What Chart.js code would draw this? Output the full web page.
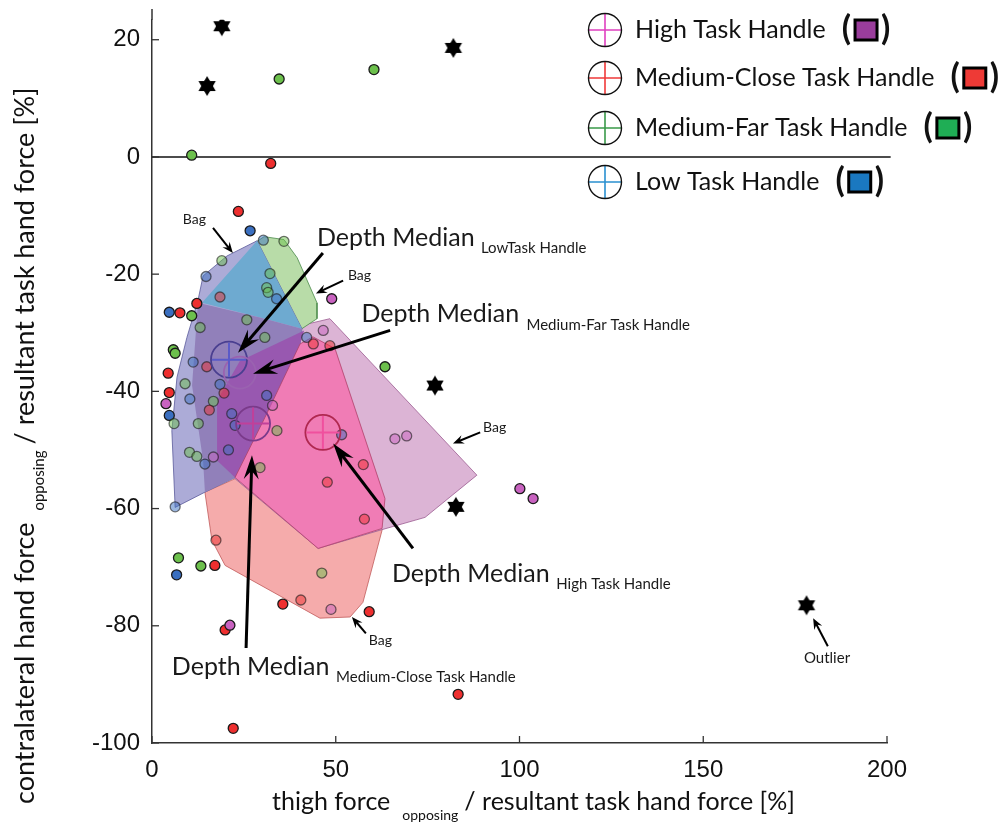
<!DOCTYPE html>
<html>
<head>
<meta charset="utf-8">
<script src="https://cdn.jsdelivr.net/npm/chart.js@4.4.1/dist/chart.umd.min.js"></script>
<style>
  html, body { margin: 0; padding: 0; background: #fff; }
  #wrap { width: 1006px; height: 823px; }
</style>
</head>
<body>
<div id="wrap"><canvas id="chart1" width="1006" height="823"></canvas></div>
<script>
// axis ticks
var xTicks = [0, 50, 100, 150, 200];
var yTicks = [-100, -80, -60, -40, -20, 0, 20];

// single trials, per task handle
var highX = [48.9, 46.6, 32.8, 16.7, 66.1, 69.3, 48.7, 21.2, 100.1, 103.7, 3.8];
var highY = [-24.2, -29.6, -42.4, -51.2, -48.1, -47.6, -77.2, -79.9, -56.6, -58.3, -42.1];

var closeX = [32.3, 23.5, 18.5, 12.2, 7.6, 43.9, 48.4, 14.9, 4.4, 4.7, 15.6, 19.6, 57.5, 47.7, 57.8, 17.4, 17.1, 35.6, 40.5, 59.1, 19.9, 83.3, 22.1];
var closeY = [-1.1, -9.3, -23.9, -25.0, -26.6, -31.9, -32.2, -35.8, -36.9, -40.2, -43.2, -40.3, -52.5, -55.5, -61.8, -65.4, -69.7, -76.3, -75.6, -77.6, -80.7, -91.7, -97.5];

var farX = [10.8, 34.6, 60.4, 35.9, 19.0, 32.1, 31.2, 31.6, 10.8, 5.8, 6.3, 25.8, 30.7, 13.1, 63.4, 16.7, 9.0, 6.0, 12.6, 34.0, 10.2, 12.2, 29.4, 7.2, 13.3, 46.2];
var farY = [0.3, 13.3, 14.9, -14.4, -17.7, -19.9, -22.3, -23.1, -27.1, -32.9, -33.5, -27.8, -30.8, -29.1, -35.8, -41.7, -38.7, -45.5, -45.5, -46.7, -50.4, -51.1, -53.0, -68.4, -69.8, -71.0];

var lowX = [26.7, 30.3, 14.7, 33.9, 4.7, 42.1, 11.2, 10.3, 18.5, 4.7, 21.7, 22.6, 20.8, 31.2, 14.4, 51.6, 6.3, 6.7];
var lowY = [-12.6, -14.2, -20.4, -24.2, -26.5, -30.8, -35.0, -41.3, -38.8, -44.1, -43.8, -45.8, -50.0, -40.7, -52.4, -47.4, -59.7, -71.3];

var outX = [19.0, 15.0, 82.0, 77.0, 82.7, 178.1];
var outY = [22.3, 12.1, 18.6, -39.0, -59.7, -76.5];

// depth medians: low, medium-far, medium-close, high
var medX = [20.95, 23.9, 27.5, 46.5];
var medY = [-34.6, -36.8, -45.5, -47.0];

// bag outlines (visible regions, painted back to front)
var salmonX = [14.4, 16.3, 19.9, 45.7, 53.9, 57.4, 62.6, 63.4, 49.8, 45.2, 37.6, 28.0, 22.6];
var salmonY = [-57.2, -65.4, -69.7, -78.7, -78.5, -76.0, -63.7, -58.1, -32.7, -30.2, -39.0, -50.9, -54.9];
var mauveX = [48.4, 88.4, 74.3, 62.0, 45.2, 22.6, 17.7, 17.7, 23.9, 40.3];
var mauveY = [-27.6, -54.3, -61.5, -63.7, -66.8, -54.9, -51.8, -41.6, -34.8, -28.8];
var greenX = [26.7, 30.5, 35.9, 39.5, 44.9, 44.9, 40.8, 29.4, 14.4];
var greenY = [-15.2, -13.6, -14.1, -17.2, -24.9, -27.6, -29.3, -27.3, -24.7];
var lavX = [6.3, 5.4, 6.8, 9.5, 12.5, 13.9, 20.4, 28.6, 40.8, 40.3, 30.7, 22.6, 14.4];
var lavY = [-59.8, -46.7, -37.6, -30.8, -24.5, -20.3, -16.9, -14.3, -29.3, -31.9, -44.5, -54.7, -57.2];
var steelX = [28.6, 40.8, 29.4, 13.6];
var steelY = [-14.3, -29.3, -27.4, -24.9];
var grayX = [12.5, 29.4, 40.8, 40.3, 30.7, 22.6, 14.4, 13.9, 10.9];
var grayY = [-24.9, -27.4, -29.3, -31.9, -44.5, -54.7, -57.2, -51.8, -39.0];
var purpX = [17.7, 17.7, 23.9, 41.4, 40.3, 30.7, 22.6];
var purpY = [-51.8, -41.6, -34.8, -29.6, -31.9, -44.5, -54.7];
var pinkX = [22.6, 30.7, 40.3, 43.8, 49.8, 63.4, 62.6, 45.2];
var pinkY = [-54.7, -44.5, -31.9, -30.7, -32.7, -58.3, -63.4, -66.8];

function pts(xs, ys) {
    return xs.map(function (v, i) { return { x: v, y: ys[i] }; });
}
function ring(xs, ys) {
    var p = pts(xs, ys);
    p.push(p[0]);
    return p;
}
function inPoly(x, y, xs, ys) {
    var hit = false;
    for (var i = 0, j = xs.length - 1; i < xs.length; j = i++) {
        if ((ys[i] > y) !== (ys[j] > y) && x < (xs[j] - xs[i]) * (y - ys[i]) / (ys[j] - ys[i]) + xs[i]) hit = !hit;
    }
    return hit;
}
function inBag(p) {
    return inPoly(p.x, p.y, salmonX, salmonY) || inPoly(p.x, p.y, mauveX, mauveY) ||
        inPoly(p.x, p.y, greenX, greenY) || inPoly(p.x, p.y, lavX, lavY);
}

// black six-point star for outliers
var star = document.createElement('canvas');
star.width = 22; star.height = 22;
(function () {
    var c = star.getContext('2d');
    c.fillStyle = '#000';
    for (var k = 0; k < 2; k++) {
        c.beginPath();
        for (var i = 0; i < 3; i++) {
            var a = -Math.PI / 2 + k * Math.PI / 3 + i * 2 * Math.PI / 3;
            var px = 11 + 10 * Math.cos(a), py = 11 + 10 * Math.sin(a);
            if (i === 0) c.moveTo(px, py); else c.lineTo(px, py);
        }
        c.closePath();
        c.fill();
    }
    c.beginPath(); c.arc(11, 11, 6, 0, Math.PI * 2); c.fill();
})();

function region(xs, ys, fill, line, order) {
    return {
        type: 'line', data: ring(xs, ys), fill: 'shape', backgroundColor: fill,
        borderColor: line, borderWidth: line ? 0.8 : 0, pointRadius: 0, tension: 0, order: order
    };
}
// points lying under a bag look tinted by it
function dots(xs, ys, rgb) {
    return {
        data: pts(xs, ys),
        backgroundColor: function (c) { return 'rgba(' + rgb + ',' + (c.raw && inBag(c.raw) ? 0.5 : 1) + ')'; },
        borderColor: function (c) { return 'rgba(26,26,26,' + (c.raw && inBag(c.raw) ? 0.6 : 1) + ')'; },
        borderWidth: 1.3, pointRadius: 5, order: 10
    };
}

var datasets = [
    region(salmonX, salmonY, '#f5abab', '#c05a5a', 100),
    region(mauveX, mauveY, '#dcb4d5', '#9a5a90', 99),
    region(greenX, greenY, '#b8dca8', '#4a8a4a', 98),
    region(lavX, lavY, '#acabd7', '#5a5a9a', 97),
    region(steelX, steelY, '#6eaad0', null, 96),
    region(grayX, grayY, '#9180ba', null, 95),
    region(purpX, purpY, '#9858b0', null, 94),
    region(pinkX, pinkY, '#f07cb5', '#b0406a', 93),
    dots(highX, highY, '200,98,192'),
    dots(closeX, closeY, '238,47,47'),
    dots(farX, farY, '108,192,76'),
    dots(lowX, lowY, '58,111,192'),
    { data: pts(outX, outY), pointStyle: star, order: 8 },
    { data: pts(medX, medY), pointStyle: 'circle', pointRadius: [18, 16, 17, 17.5], backgroundColor: 'rgba(0,0,0,0)',
      borderColor: ['#4a3f90', '#9a62b0', '#7a3a8a', '#b02850'], borderWidth: 1.8, order: 5 },
    { data: pts([medX[0], medX[2], medX[3]], [medY[0], medY[2], medY[3]]), pointStyle: 'cross', pointRadius: [17, 16, 16.5],
      borderColor: ['#5a5ac8', '#c0409a', '#f0509e'], borderWidth: 2, order: 4 }
];

// annotations (data units)
var notes = [
    { t: 'Bag', x: 8.4, y: -10.6, s: 14 }, { t: 'Bag', x: 53.3, y: -20.3, s: 14 },
    { t: 'Bag', x: 90.1, y: -46.2, s: 14 }, { t: 'Bag', x: 59.0, y: -82.5, s: 14 },
    { t: 'Outlier', x: 177.4, y: -85.6, s: 15 }
];
var medLabels = [
    { sub: 'LowTask Handle', x: 44.9, y: -15.2, sx: 89.5, sy: -16.4 },
    { sub: 'Medium-Far Task Handle', x: 57.0, y: -28.1, sx: 101.9, sy: -29.6 },
    { sub: 'High Task Handle', x: 65.3, y: -72.6, sx: 110.0, sy: -73.8 },
    { sub: 'Medium-Close Task Handle', x: 5.4, y: -88.4, sx: 50.1, sy: -89.6 }
];
var arrows = [
    [16.6, -12.1, 22.0, -16.4, 0], [52.0, -21.1, 44.6, -23.3, 0], [89.3, -47.0, 81.9, -48.9, 0],
    [58.2, -81.3, 54.4, -78.5, 0], [183.9, -83.5, 179.9, -78.7, 0],
    [46.5, -16.4, 23.4, -33.4, 1], [64.8, -29.6, 27.5, -37.0, 1],
    [71.0, -66.8, 49.3, -48.9, 1], [25.6, -83.8, 27.2, -50.9, 1]
];
var legendItems = [
    { t: 'High Task Handle', cross: '#e040c0', sq: '#9a3d9c', y: 30 },
    { t: 'Medium-Close Task Handle', cross: '#f03a3a', sq: '#ee3a36', y: 78 },
    { t: 'Medium-Far Task Handle', cross: '#3a9a4a', sq: '#1fae55', y: 128 },
    { t: 'Low Task Handle', cross: '#2a90d0', sq: '#1a78c0', y: 182 }
];

var FONT = 'Lato, "Open Sans", sans-serif';

function drawArrow(c, x1, y1, x2, y2, big) {
    var lw = big ? 3 : 2, hl = big ? 24 : 11, hw = big ? 15 : 9;
    var a = Math.atan2(y2 - y1, x2 - x1), ca = Math.cos(a), sa = Math.sin(a);
    c.lineWidth = lw;
    c.beginPath(); c.moveTo(x1, y1); c.lineTo(x2 - ca * hl * 0.6, y2 - sa * hl * 0.6); c.stroke();
    c.beginPath();
    c.moveTo(x2, y2);
    c.lineTo(x2 - hl * ca + hw / 2 * sa, y2 - hl * sa - hw / 2 * ca);
    c.lineTo(x2 - 0.65 * hl * ca, y2 - 0.65 * hl * sa);
    c.lineTo(x2 - hl * ca - hw / 2 * sa, y2 - hl * sa + hw / 2 * ca);
    c.closePath(); c.fill();
}

var decor = {
    id: 'decor',
    beforeDatasetsDraw: function (chart) {
        var c = chart.ctx, xs = chart.scales.x, ys = chart.scales.y;
        c.save();
        c.strokeStyle = '#111'; c.lineWidth = 1.5;
        var zy = ys.getPixelForValue(0);
        c.beginPath(); c.moveTo(xs.getPixelForValue(0), zy); c.lineTo(xs.getPixelForValue(201), zy); c.stroke();
        c.restore();
    },
    afterDraw: function (chart) {
        var c = chart.ctx, xs = chart.scales.x, ys = chart.scales.y, area = chart.chartArea;
        c.save();
        // y axis continues a little above the plot box
        c.strokeStyle = '#333'; c.lineWidth = 1.5;
        c.beginPath(); c.moveTo(area.left, area.top); c.lineTo(area.left, 9); c.stroke();
        // inward tick marks
        c.lineWidth = 1.3;
        xTicks.forEach(function (v) {
            var px = xs.getPixelForValue(v);
            c.beginPath(); c.moveTo(px, area.bottom); c.lineTo(px, area.bottom - 7); c.stroke();
        });
        yTicks.forEach(function (v) {
            var py = ys.getPixelForValue(v);
            c.beginPath(); c.moveTo(area.left, py); c.lineTo(area.left + 7, py); c.stroke();
        });

        // arrows
        c.strokeStyle = '#000'; c.fillStyle = '#000';
        arrows.forEach(function (a) {
            drawArrow(c, xs.getPixelForValue(a[0]), ys.getPixelForValue(a[1]),
                xs.getPixelForValue(a[2]), ys.getPixelForValue(a[3]), a[4]);
        });

        // notes
        c.fillStyle = '#1a1a1a'; c.textBaseline = 'middle'; c.textAlign = 'left';
        notes.forEach(function (n) {
            c.font = n.s + 'px ' + FONT;
            c.fillText(n.t, xs.getPixelForValue(n.x), ys.getPixelForValue(n.y));
        });
        c.textBaseline = 'alphabetic';
        medLabels.forEach(function (m) {
            c.font = '25px ' + FONT;
            c.fillText('Depth Median', xs.getPixelForValue(m.x), ys.getPixelForValue(m.y));
            c.font = '15px ' + FONT;
            c.fillText(m.sub, xs.getPixelForValue(m.sx), ys.getPixelForValue(m.sy));
        });

        // legend
        legendItems.forEach(function (it) {
            var cx = 605, cy = it.y, r = 16.5;
            c.strokeStyle = it.cross; c.lineWidth = 1.6;
            c.beginPath(); c.moveTo(cx - r, cy); c.lineTo(cx + r, cy); c.moveTo(cx, cy - r); c.lineTo(cx, cy + r); c.stroke();
            c.strokeStyle = '#111'; c.lineWidth = 1.4;
            c.beginPath(); c.arc(cx, cy, r, 0, Math.PI * 2); c.stroke();
            c.fillStyle = '#111'; c.font = '25px ' + FONT; c.textBaseline = 'middle';
            var tx = 635;
            c.fillText(it.t, tx, cy);
            var w = c.measureText(it.t).width;
            c.font = 'bold 34px ' + FONT;
            var px = tx + w + 16;
            c.fillText('(', px, cy - 1);
            var pw = c.measureText('(').width;
            var sx = px + pw + 4;
            c.fillStyle = it.sq; c.fillRect(sx, cy - 10, 22, 20);
            c.strokeStyle = '#000'; c.lineWidth = 3; c.strokeRect(sx, cy - 10, 22, 20);
            c.fillStyle = '#111';
            c.fillText(')', sx + 26, cy - 1);
        });

        // axis titles with subscripts
        c.fillStyle = '#111'; c.textBaseline = 'alphabetic';
        var x0 = 272, by = 810;
        c.font = '25px ' + FONT;
        c.fillText('thigh force', x0, by);
        x0 += c.measureText('thigh force').width + 12;
        c.font = '14px ' + FONT;
        c.fillText('opposing', x0, by + 10);
        x0 += c.measureText('opposing').width + 6;
        c.font = '25px ' + FONT;
        c.fillText('/ resultant task hand force [%]', x0, by);

        c.translate(34, 804);
        c.rotate(-Math.PI / 2);
        var lx = 0;
        c.font = '27px ' + FONT;
        c.fillText('contralateral hand force', lx, 0);
        lx += c.measureText('contralateral hand force').width + 12;
        c.font = '15px ' + FONT;
        c.fillText('opposing', lx, 10);
        lx += c.measureText('opposing').width + 6;
        c.font = '27px ' + FONT;
        c.fillText('/ resultant task hand force [%]', lx, 0);
        c.restore();
    }
};

var ctx1 = document.getElementById('chart1').getContext('2d');
var chart1 = new Chart(ctx1, {
    type: 'scatter',
    data: { datasets: datasets },
    options: {
        responsive: false,
        animation: false,
        layout: { padding: { left: 0, right: 119, top: 0, bottom: 0 } },
        plugins: {
            legend: { display: false },
            tooltip: { enabled: false }
        },
        scales: {
            x: {
                type: 'linear', min: 0, max: 200,
                afterBuildTicks: function (s) { s.ticks = xTicks.map(function (v) { return { value: v }; }); },
                afterFit: function (s) { s.height = 80; s.paddingLeft = 0; s.paddingRight = 0; },
                grid: { display: false, drawTicks: false },
                border: { display: true, color: '#333', width: 1.5 },
                ticks: { padding: 13, color: '#111', font: { family: '"Liberation Sans", Arial', size: 24 } }
            },
            y: {
                type: 'linear', min: -100, max: 23.4,
                afterBuildTicks: function (s) { s.ticks = yTicks.map(function (v) { return { value: v }; }); },
                afterFit: function (s) { s.width = 152; s.paddingTop = 0; s.paddingBottom = 0; },
                grid: { display: false, drawTicks: false },
                border: { display: true, color: '#333', width: 1.5 },
                ticks: { padding: 12, color: '#111', font: { family: '"Liberation Sans", Arial', size: 24 } }
            }
        }
    },
    plugins: [decor]
});
</script>
</body>
</html>
